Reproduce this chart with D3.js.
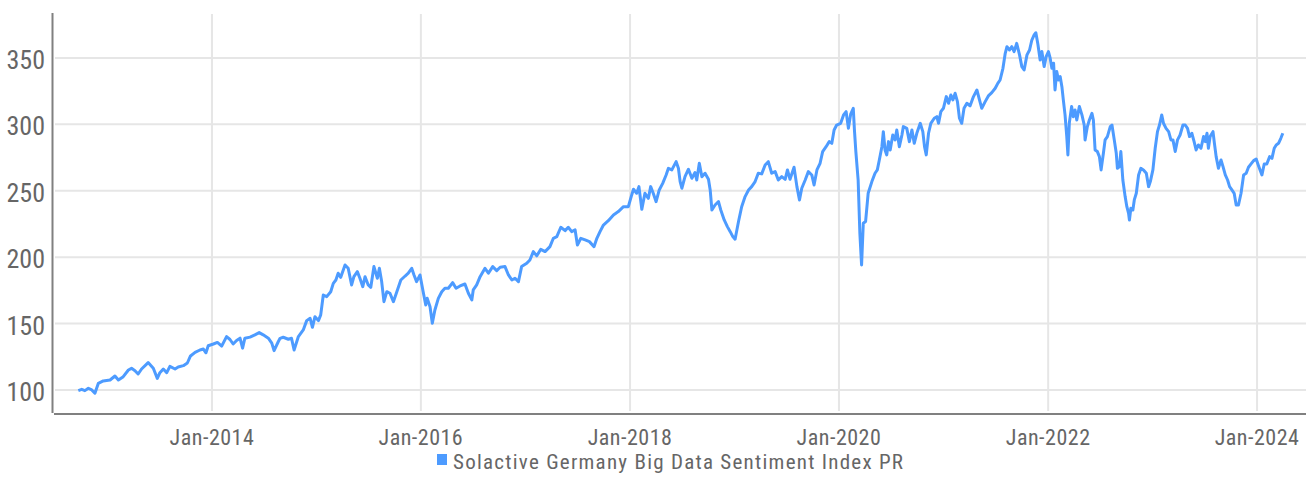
<!DOCTYPE html>
<html>
<head>
<meta charset="utf-8">
<script src="https://cdn.jsdelivr.net/npm/d3@7"></script>
<style>
  html, body { margin: 0; padding: 0; background: #fff; }
  svg { display: block; }
  .lbl { font-family: "Liberation Sans Narrow", "Roboto Condensed", "Roboto", sans-serif; fill: #666; }
</style>
</head>
<body>
<div id="chart"></div>
<script>
// Series name and ticks
const seriesName = "Solactive Germany Big Data Sentiment Index PR";
const yTicks = [100, 150, 200, 250, 300, 350];
const xTicks = ["2014-01-01", "2016-01-01", "2018-01-01", "2020-01-01", "2022-01-01", "2024-01-01"];

// Index level (date, value)
const dates = [
  "2012-09-21","2012-10-03","2012-10-14","2012-10-26","2012-11-07","2012-11-18","2012-11-30","2012-12-17",
  "2013-01-10","2013-01-27","2013-02-08","2013-02-25","2013-03-15","2013-03-26","2013-04-07","2013-04-18",
  "2013-04-30","2013-05-23","2013-06-10","2013-06-24","2013-07-03","2013-07-15","2013-07-27","2013-08-07",
  "2013-08-25","2013-09-05","2013-09-23","2013-10-07","2013-10-18","2013-11-03","2013-11-20","2013-12-02",
  "2013-12-11","2013-12-19","2014-01-06","2014-01-20","2014-02-04","2014-02-21","2014-03-05","2014-03-16",
  "2014-03-28","2014-04-09","2014-04-18","2014-04-26","2014-05-14","2014-05-31","2014-06-15","2014-06-29",
  "2014-07-17","2014-07-29","2014-08-06","2014-08-21","2014-08-27","2014-09-07","2014-09-25","2014-10-06",
  "2014-10-15","2014-10-30","2014-11-16","2014-11-28","2014-12-10","2014-12-18","2014-12-27","2015-01-08",
  "2015-01-16","2015-01-25","2015-02-06","2015-02-20","2015-03-01","2015-03-10","2015-03-18","2015-03-27",
  "2015-04-11","2015-04-22","2015-05-04","2015-05-12","2015-05-24","2015-06-02","2015-06-12","2015-06-20",
  "2015-07-01","2015-07-10","2015-07-21","2015-08-02","2015-08-09","2015-08-17","2015-08-25","2015-09-04",
  "2015-09-15","2015-09-27","2015-10-09","2015-10-23","2015-11-07","2015-11-18","2015-11-30","2015-12-08",
  "2015-12-17","2015-12-29","2016-01-09","2016-01-18","2016-01-23","2016-02-02","2016-02-10","2016-02-19",
  "2016-03-02","2016-03-14","2016-03-25","2016-04-06","2016-04-21","2016-05-03","2016-05-17","2016-06-03",
  "2016-06-15","2016-06-27","2016-07-02","2016-07-14","2016-07-26","2016-08-12","2016-08-24","2016-09-08",
  "2016-09-22","2016-10-04","2016-10-21","2016-11-02","2016-11-14","2016-11-25","2016-12-07","2016-12-18",
  "2017-01-05","2017-01-16","2017-01-28","2017-02-09","2017-02-23","2017-03-10","2017-03-27","2017-04-08",
  "2017-04-20","2017-05-04","2017-05-19","2017-05-30","2017-06-11","2017-06-23","2017-07-01","2017-07-13",
  "2017-07-28","2017-08-12","2017-08-28","2017-09-07","2017-09-18","2017-09-30","2017-10-17","2017-11-04",
  "2017-11-21","2017-12-09","2017-12-26","2018-01-05","2018-01-13","2018-01-24","2018-02-01","2018-02-11",
  "2018-02-22","2018-03-06","2018-03-14","2018-03-23","2018-04-02","2018-04-13","2018-04-25","2018-05-07",
  "2018-05-15","2018-05-27","2018-06-11","2018-06-19","2018-06-25","2018-07-01","2018-07-12","2018-07-24",
  "2018-08-05","2018-08-16","2018-08-22","2018-08-31","2018-09-09","2018-09-20","2018-10-02","2018-10-08",
  "2018-10-14","2018-10-25","2018-11-06","2018-11-14","2018-11-26","2018-12-07","2018-12-17","2018-12-26",
  "2019-01-03","2019-01-15","2019-01-26","2019-02-07","2019-02-19","2019-03-02","2019-03-14","2019-03-25",
  "2019-04-06","2019-04-18","2019-04-29","2019-05-11","2019-05-23","2019-06-03","2019-06-15","2019-06-27",
  "2019-07-05","2019-07-14","2019-07-28","2019-08-07","2019-08-16","2019-08-24","2019-09-05","2019-09-16",
  "2019-09-28","2019-10-06","2019-10-16","2019-10-27","2019-11-05","2019-11-17","2019-11-28","2019-12-07",
  "2019-12-15","2019-12-24","2020-01-07","2020-01-17","2020-01-26","2020-02-03","2020-02-11","2020-02-20",
  "2020-02-24","2020-02-29","2020-03-08","2020-03-14","2020-03-20","2020-03-26","2020-04-03","2020-04-12",
  "2020-04-25","2020-05-06","2020-05-14","2020-05-21","2020-05-30","2020-06-04","2020-06-10","2020-06-16",
  "2020-06-22","2020-06-28","2020-07-07","2020-07-15","2020-07-21","2020-07-30","2020-08-08","2020-08-13",
  "2020-08-25","2020-09-03","2020-09-12","2020-09-20","2020-09-29","2020-10-11","2020-10-20","2020-10-26",
  "2020-11-01","2020-11-09","2020-11-17","2020-11-29","2020-12-08","2020-12-14","2020-12-22","2020-12-31",
  "2021-01-10","2021-01-18","2021-01-26","2021-02-02","2021-02-10","2021-02-18","2021-02-25","2021-03-05",
  "2021-03-13","2021-03-23","2021-04-03","2021-04-15","2021-04-27","2021-05-06","2021-05-14","2021-05-26",
  "2021-06-06","2021-06-18","2021-06-30","2021-07-09","2021-07-17","2021-07-27","2021-08-04","2021-08-10",
  "2021-08-19","2021-08-27","2021-09-04","2021-09-13","2021-09-23","2021-10-01","2021-10-09","2021-10-19",
  "2021-10-28","2021-11-05","2021-11-13","2021-11-19","2021-11-26","2021-12-04","2021-12-10","2021-12-18",
  "2021-12-25","2022-01-02","2022-01-08","2022-01-14","2022-01-20","2022-01-25","2022-01-31","2022-02-06",
  "2022-02-12","2022-02-18","2022-02-23","2022-03-01","2022-03-07","2022-03-11","2022-03-16","2022-03-24",
  "2022-03-30","2022-04-05","2022-04-11","2022-04-20","2022-04-29","2022-05-07","2022-05-10","2022-05-18",
  "2022-05-25","2022-06-03","2022-06-08","2022-06-14","2022-06-22","2022-06-29","2022-07-05","2022-07-13",
  "2022-07-19","2022-07-27","2022-08-06","2022-08-12","2022-08-20","2022-08-27","2022-08-31","2022-09-07",
  "2022-09-12","2022-09-19","2022-09-27","2022-10-03","2022-10-09","2022-10-12","2022-10-17","2022-10-24",
  "2022-10-29","2022-11-05","2022-11-13","2022-11-21","2022-11-30","2022-12-10","2022-12-18","2022-12-24",
  "2023-01-02","2023-01-10","2023-01-18","2023-01-25","2023-02-02","2023-02-08","2023-02-17","2023-02-26",
  "2023-03-06","2023-03-13","2023-03-21","2023-03-29","2023-04-07","2023-04-17","2023-04-25","2023-05-03",
  "2023-05-10","2023-05-18","2023-05-26","2023-06-02","2023-06-10","2023-06-19","2023-06-28","2023-07-04",
  "2023-07-10","2023-07-15","2023-07-21","2023-07-31","2023-08-05","2023-08-11","2023-08-19","2023-08-28",
  "2023-09-04","2023-09-12","2023-09-20","2023-09-27","2023-10-05","2023-10-13","2023-10-20","2023-10-28",
  "2023-11-06","2023-11-15","2023-11-24","2023-12-02","2023-12-11","2023-12-20","2023-12-29","2024-01-06",
  "2024-01-18","2024-01-26","2024-02-04","2024-02-14","2024-02-22","2024-03-01","2024-03-08","2024-03-16",
  "2024-03-24","2024-03-31"
];
const values = [
  99.5,100.5,99.5,101.3,100,97.5,105,106.8,
  107.5,110.5,107.5,110,115,116.3,114.5,112,
  115.8,120.6,116.3,108.7,113,115.8,113,117.8,
  115.8,117.3,118.3,120.3,125.6,128.3,130.1,130.8,
  128,133.3,134.6,135.8,133,140.2,138,134.6,
  137.3,139,131.5,139,139.8,141.5,143.2,141.5,
  139,135.3,129.6,136.5,138.9,139.7,138.2,138.9,
  130.1,140.2,145.2,152.2,154,147.2,155.2,152.2,
  156.5,171.5,170.3,174,180.3,182.8,187.9,184.8,
  194.1,191.6,179.1,185.3,189.1,184.1,177.8,185.3,
  179.1,177.3,192.9,184.1,191.6,181.6,166.5,174,
  172.8,166.5,174,182.8,185.8,187.9,191.6,186.6,
  181.6,186.6,174,164,169,162.7,150.2,160.2,
  169,174,176.6,176.6,180.8,176.6,178.3,179.8,
  172.8,167.8,175.3,179.1,185.3,191.6,187.9,192.9,
  189.9,192.4,192.9,186.6,182.8,184.1,181.6,192.9,
  195.4,197.9,204.2,201,205.9,204.2,207.9,214.2,
  215.5,222.5,220,222.5,219.2,220.5,209.2,214.2,
  213,211.7,207.9,214.2,219.2,224.2,227.5,231.8,
  234.3,238,238,245.6,251.1,248.1,253.1,236,
  248.1,244.3,253.1,248.1,241.8,250.6,255.6,261.9,
  266.9,265.7,271.9,266.9,256.9,251.9,260.6,266.2,
  259.4,263.7,258.1,270.7,260.6,263.2,258.6,250.6,
  235.5,239.3,241.8,235.5,228,223,219.2,215.5,
  213.5,226.8,238,245.6,250.6,253.1,256.9,263.2,
  262.7,269.4,271.9,263.2,264.4,258.1,260.6,258.6,
  265.7,258.6,267.7,253.1,243.1,251.9,258.1,264.4,
  261.9,254.4,265.7,270.7,279.5,283.2,287,285.7,
  295.8,299.5,300.8,307.1,309.6,297,307.8,312.1,
  295.8,279.5,258.1,218,194.1,225.5,226.8,248.1,
  256.9,263.2,265.7,273.2,283.2,294.5,280.7,277,
  287,280.7,292,288.3,295.8,283.2,292,298.3,
  297,287,295.8,285.7,293.3,300.8,294.5,283.2,
  277,293.3,300.8,304.6,305.8,300.8,309.6,312.1,
  320.9,315.9,322.1,318.4,323.4,317.1,304.6,300.8,
  312.1,315.9,313.9,320.9,325.9,318.4,312.1,317.1,
  321.4,323.9,327.2,330.9,333.4,342.2,353.5,358.5,
  356,358.5,354.8,361,352.3,343.5,341,352.3,
  356,363.5,367.3,369,360.5,348.5,354.8,343.5,
  351,354.8,349.8,342.2,346,325.9,339.8,333.4,
  336,328.4,318.4,307.1,290.8,277,301.1,313.4,
  305.8,310.8,303.3,313.4,307.1,299.5,288.3,298.3,
  303.3,308.3,303.3,280.7,279.5,275.7,265.7,278.2,
  288.3,290.8,298.3,299.5,288.3,278.2,266.9,268.2,
  279.5,258.1,245.6,238,233,228,236.8,235.5,
  243.1,248.1,261.9,266.9,265.7,263.2,253.1,256.9,
  265.7,282,294.5,299.5,307.1,300.8,297,294.5,
  288.3,288.3,279.5,288.3,292,299.5,299.5,297,
  290.8,293.3,287,280.7,284.5,282,290.8,287,
  293.3,282,290.8,294.5,285.7,275.7,266.9,273.2,
  268.2,261.9,258.1,253.1,250.6,248.1,239.3,239.3,
  248.1,261.9,263.2,267.7,270.2,272.7,273.9,268.9,
  261.9,270.2,270.2,275.7,274.4,282,284.5,285.7,
  289.5,293.3
];

const parseDate = d3.timeParse("%Y-%m-%d");
const data = dates.map((d, i) => ({ date: parseDate(d), value: values[i] }));

const width = 1306, height = 498;
const plot = { left: 54, right: 1306, top: 14, bottom: 414 };

const svg = d3.select("#chart")
  .append("svg")
  .attr("width", width)
  .attr("height", height);

const x = d3.scaleTime()
  .domain([parseDate("2012-06-28"), parseDate("2024-06-20")])
  .range([plot.left, plot.right]);

const y = d3.scaleLinear()
  .domain([81.9, 383.1])
  .range([plot.bottom, plot.top]);

// horizontal gridlines
svg.append("g")
  .selectAll("line")
  .data(yTicks)
  .join("line")
  .attr("x1", plot.left + 1)
  .attr("x2", plot.right)
  .attr("y1", d => y(d))
  .attr("y2", d => y(d))
  .attr("stroke", "#e6e6e6")
  .attr("stroke-width", 2);

// vertical gridlines
svg.append("g")
  .selectAll("line")
  .data(xTicks.map(parseDate))
  .join("line")
  .attr("x1", d => x(d))
  .attr("x2", d => x(d))
  .attr("y1", plot.top)
  .attr("y2", plot.bottom - 3)
  .attr("stroke", "#e6e6e6")
  .attr("stroke-width", 2);

// axis lines
svg.append("line")
  .attr("x1", plot.left - 1.5).attr("x2", plot.left - 1.5)
  .attr("y1", plot.top - 1).attr("y2", plot.bottom - 1)
  .attr("stroke", "#808080").attr("stroke-width", 2);

svg.append("line")
  .attr("x1", plot.left).attr("x2", plot.right)
  .attr("y1", plot.bottom).attr("y2", plot.bottom)
  .attr("stroke", "#808080").attr("stroke-width", 2);

// y labels
svg.append("g")
  .selectAll("text")
  .data(yTicks)
  .join("text")
  .attr("class", "lbl")
  .attr("x", 45)
  .attr("y", d => y(d) + 11)
  .attr("text-anchor", "end")
  .style("font-size", "26px")
  .text(d => d);

// x labels
const fmt = d3.timeFormat("%b-%Y");
svg.append("g")
  .selectAll("text")
  .data(xTicks.map(parseDate))
  .join("text")
  .attr("class", "lbl")
  .attr("x", d => x(d))
  .attr("y", 445)
  .attr("text-anchor", "middle")
  .style("font-size", "22px")
  .style("letter-spacing", "0.5px")
  .text(d => fmt(d));

// the index line
const line = d3.line()
  .x(d => x(d.date))
  .y(d => y(d.value));

svg.append("path")
  .datum(data)
  .attr("fill", "none")
  .attr("stroke", "#4d9bff")
  .attr("stroke-width", 3)
  .attr("stroke-linejoin", "round")
  .attr("d", line);

// legend
const legend = svg.append("g").attr("transform", "translate(437,454)");
legend.append("rect")
  .attr("width", 10).attr("height", 11)
  .attr("fill", "#4d9bff");
legend.append("text")
  .attr("class", "lbl")
  .attr("x", 16)
  .attr("y", 15)
  .attr("textLength", 450)
  .attr("lengthAdjust", "spacing")
  .style("font-size", "21px")
  .text(seriesName);
</script>
</body>
</html>
